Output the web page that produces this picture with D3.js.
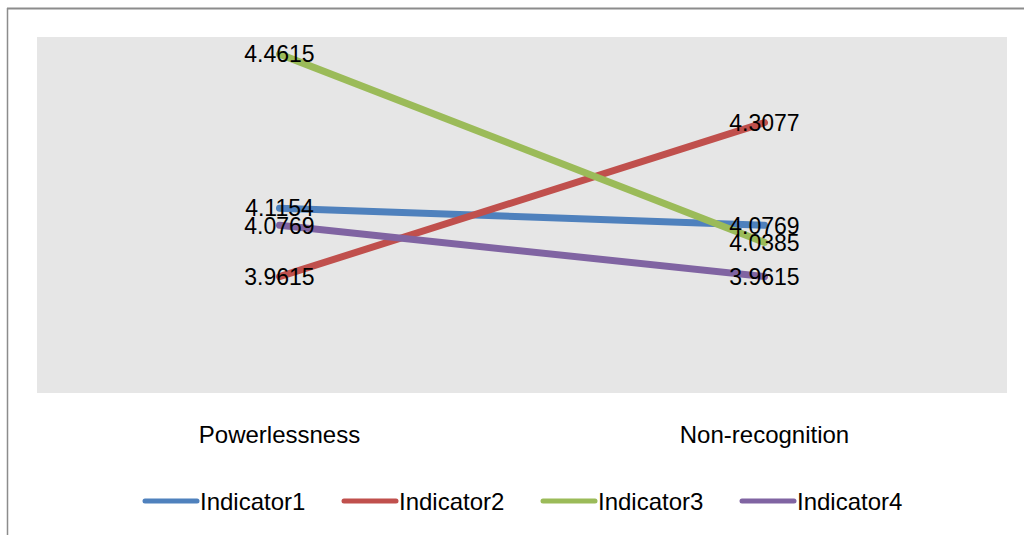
<!DOCTYPE html>
<html>
<head>
<meta charset="utf-8">
<script src="https://cdn.jsdelivr.net/npm/d3@7"></script>
<style>
  html, body { margin: 0; padding: 0; background: #fff; }
  svg { display: block; }
  text { font-family: "Liberation Sans", Arial, sans-serif; fill: #000; }
</style>
</head>
<body>
<svg id="chart" width="1024" height="535"></svg>
<script>
// Categories along the x axis
const categories = ["Powerlessness", "Non-recognition"];
// Series names and their values for each category
const seriesNames = ["Indicator1", "Indicator2", "Indicator3", "Indicator4"];
const indicator1 = [4.1154, 4.0769];
const indicator2 = [3.9615, 4.3077];
const indicator3 = [4.4615, 4.0385];
const indicator4 = [4.0769, 3.9615];
const seriesColors = ["#4F81BD", "#C0504D", "#9BBB59", "#8064A2"];
// Value axis limits (axis itself is hidden)
const yDomain = [3.7, 4.5];

const series = [indicator1, indicator2, indicator3, indicator4].map((vals, i) => ({
  name: seriesNames[i],
  color: seriesColors[i],
  values: vals.map((v, j) => ({ cat: categories[j], value: v }))
}));

const svg = d3.select("#chart");
const plot = { left: 37, top: 37, right: 1007, bottom: 393 };

// Chart frame: top and left edges
svg.append("line").attr("x1", 7).attr("x2", 1024).attr("y1", 8.5).attr("y2", 8.5)
  .attr("stroke", "#8c8c8c").attr("stroke-width", 2);
svg.append("line").attr("x1", 7.5).attr("x2", 7.5).attr("y1", 8).attr("y2", 535)
  .attr("stroke", "#8c8c8c").attr("stroke-width", 1.5);

// Plot area background
svg.append("rect")
  .attr("x", plot.left).attr("y", plot.top)
  .attr("width", plot.right - plot.left).attr("height", plot.bottom - plot.top)
  .attr("fill", "#E6E6E6");

const x = d3.scaleBand().domain(categories).range([plot.left, plot.right]);
const y = d3.scaleLinear().domain(yDomain).range([plot.bottom, plot.top]);
const cx = c => x(c) + x.bandwidth() / 2;

const line = d3.line().x(d => cx(d.cat)).y(d => y(d.value));

// Series lines
svg.append("g").selectAll("path").data(series).join("path")
  .attr("d", d => line(d.values))
  .attr("fill", "none")
  .attr("stroke", d => d.color)
  .attr("stroke-width", 7)
  .attr("stroke-linecap", "round")
  .attr("stroke-linejoin", "round");

// Value labels centred on each point
svg.append("g").selectAll("g").data(series).join("g")
  .selectAll("text").data(d => d.values).join("text")
  .attr("x", d => cx(d.cat))
  .attr("y", d => y(d.value))
  .attr("dy", "0.36em")
  .attr("text-anchor", "middle")
  .attr("font-size", 23)
  .text(d => d.value.toFixed(4));

// Category axis labels (axis line and ticks hidden)
const xAxis = svg.append("g")
  .attr("transform", `translate(0,${plot.bottom})`)
  .call(d3.axisBottom(x).tickSize(0).tickPadding(33));
xAxis.select(".domain").remove();
xAxis.selectAll("text")
  .attr("font-size", 24)
  .attr("font-family", "Liberation Sans, Arial, sans-serif")
  .attr("fill", "#000");

// Legend
const legendStep = 199;
const legendX0 = 143;
const legendY = 501;
const legend = svg.append("g").selectAll("g").data(series).join("g")
  .attr("transform", (d, i) => `translate(${legendX0 + i * legendStep},${legendY})`);
legend.append("line")
  .attr("x1", 2).attr("x2", 54).attr("y1", 0).attr("y2", 0)
  .attr("stroke", d => d.color).attr("stroke-width", 5)
  .attr("stroke-linecap", "round");
legend.append("text")
  .attr("x", 57).attr("y", 0).attr("dy", "0.36em")
  .attr("font-size", 24)
  .text(d => d.name);
</script>
</body>
</html>
